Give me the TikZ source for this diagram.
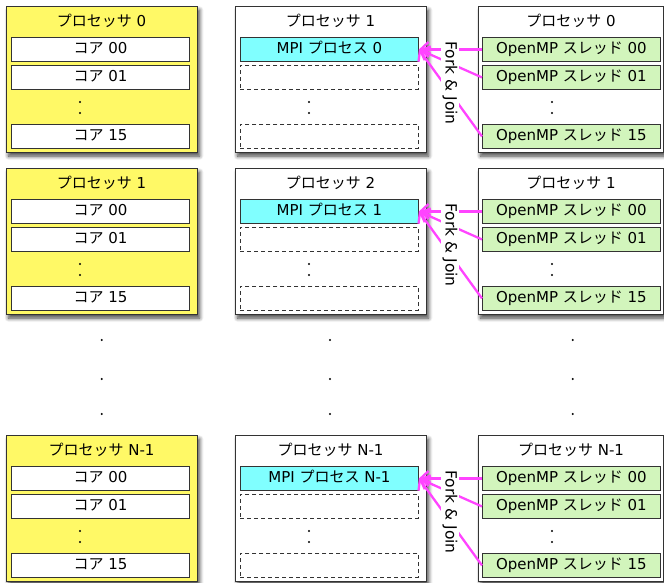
\documentclass[tikz,border=0pt]{standalone}
\usepackage{fontspec}
\setmainfont{DejaVu Sans}
\newfontfamily\jp{Noto Sans CJK JP}
\usetikzlibrary{shadows.blur,arrows.meta}
\definecolor{procyellow}{HTML}{FFF966}
\definecolor{mpicyan}{HTML}{80FFFF}
\definecolor{thrgreen}{HTML}{D2F5BC}
\definecolor{forkpink}{HTML}{FF44FF}
\definecolor{edge}{HTML}{333333}
\tikzset{
  outerbox/.style={rectangle, draw=edge, line width=1.1pt, anchor=north west,
    minimum width=191pt, minimum height=146pt, inner sep=0pt,
    blur shadow={shadow xshift=2pt, shadow yshift=-3.5pt, shadow blur radius=4pt, shadow blur steps=8, shadow opacity=75}},
  lbl/.style={font=\fontsize{15}{15}\selectfont, inner sep=0pt},
  corebox/.style={rectangle, draw=edge, line width=0.9pt, fill=white, anchor=north west,
    minimum width=178pt, minimum height=24pt, inner sep=0pt, text depth=3pt, text height=11pt,
    font=\fontsize{15}{15}\selectfont},
  mpibox/.style={corebox, fill=mpicyan},
  slotbox/.style={corebox, dashed, dash pattern=on 4pt off 3pt, line width=0.8pt},
  thrbox/.style={corebox, fill=thrgreen},
  tinydot/.style={circle, fill=black, inner sep=0pt, minimum size=2.2pt},
  forkline/.style={draw=forkpink, line width=2.3pt, -{Straight Barb[length=8pt,width=15pt]}},
  forktext/.style={fill=white, inner sep=1.5pt, rotate=-90, font=\fontsize{15.5}{15.5}\selectfont}
}
\begin{document}
\begin{tikzpicture}[x=1pt,y=-1pt]
\useasboundingbox (0,0) rectangle (664,582);
\foreach \oy/\i/\lt/\mt in {0/a/0/1, 162/b/1/2, 429/c/N-1/N-1} {
  % left column: processor with cores
  \node[outerbox, fill=procyellow] (L\i) at (6,6+\oy) {};
  \node[lbl] (Lt\i) at (101.5,21+\oy) {{\jp プロセッサ} \lt};
  \node[corebox] (La\i) at (11,37+\oy) {{\jp コア} 00};
  \node[corebox] (Lb\i) at (11,65+\oy) {{\jp コア} 01};
  \node[corebox] (Lc\i) at (11,124+\oy) {{\jp コア} 15};
  \node[tinydot] (Ld\i) at (80,102+\oy) {};
  \node[tinydot] (Le\i) at (80,113+\oy) {};
  % middle column: MPI process
  \node[outerbox, fill=white] (M\i) at (235,6+\oy) {};
  \node[lbl] (Mt\i) at (330.5,21+\oy) {{\jp プロセッサ} \mt};
  \node[mpibox] (Ma\i) at (240,37+\oy) {MPI {\jp プロセス} \lt};
  \node[slotbox] (Mb\i) at (240,65+\oy) {};
  \node[slotbox] (Mc\i) at (240,124+\oy) {};
  \node[tinydot] (Md\i) at (309,102+\oy) {};
  \node[tinydot] (Me\i) at (309,113+\oy) {};
  % right column: OpenMP threads
  \node[outerbox, fill=white, minimum width=185pt] (R\i) at (478,6+\oy) {};
  \node[lbl] (Rt\i) at (571,21+\oy) {{\jp プロセッサ} \lt};
  \node[thrbox] (Ra\i) at (482,37+\oy) {OpenMP {\jp スレッド} 00};
  \node[thrbox] (Rb\i) at (482,65+\oy) {OpenMP {\jp スレッド} 01};
  \node[thrbox] (Rc\i) at (482,124+\oy) {OpenMP {\jp スレッド} 15};
  \node[tinydot] (Rd\i) at (552,102+\oy) {};
  \node[tinydot] (Re\i) at (552,113+\oy) {};
  % fork & join
  \draw[forkline] (Ra\i.west) -- (Ma\i.east);
  \draw[forkline] (Rb\i.west) -- (Ma\i.east);
  \draw[forkline] (Rc\i.west) -- (Ma\i.east);
  \node[forktext] (F\i) at (450,83+\oy) {Fork \& Join};
}
% vertical ellipsis between rows
\foreach \x/\n in {101.7/l, 330/m, 572.7/r} {
  \node[tinydot] (\n1) at (\x,340) {};
  \node[tinydot] (\n2) at (\x,379) {};
  \node[tinydot] (\n3) at (\x,414) {};
}
\end{tikzpicture}
\end{document}
